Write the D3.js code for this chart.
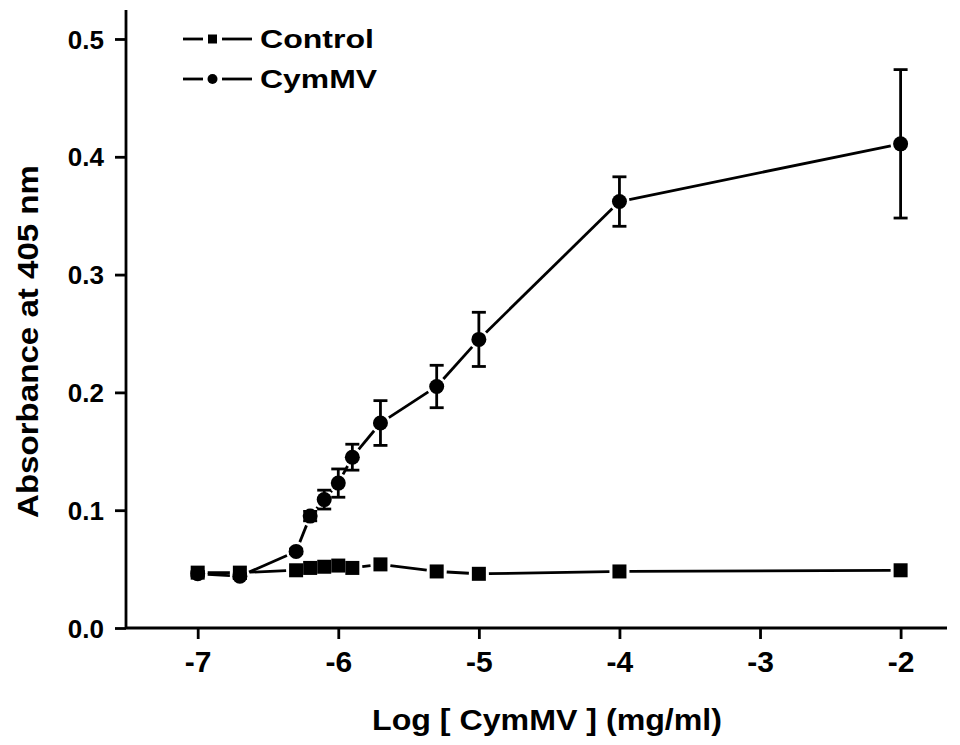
<!DOCTYPE html>
<html>
<head>
<meta charset="utf-8">
<script src="https://cdn.jsdelivr.net/npm/d3@7"></script>
<style>
  html, body { margin: 0; padding: 0; background: #fff; }
  svg { display: block; }
  text { font-family: "Liberation Sans", Arial, sans-serif; font-weight: bold; fill: #000; }
</style>
</head>
<body>
<svg id="chart" width="960" height="745"></svg>
<script>
// ---- data ----
const logConc = [-7, -6.7, -6.3, -6.2, -6.1, -6.0, -5.9, -5.7, -5.3, -5, -4, -2];
const cymmv = [0.046, 0.044, 0.065, 0.095, 0.109, 0.123, 0.145, 0.174, 0.205, 0.245, 0.362, 0.411];
const cymmvErr = [0.002, 0.002, 0.002, 0.004, 0.008, 0.012, 0.011, 0.019, 0.018, 0.023, 0.021, 0.063];
const control = [0.047, 0.047, 0.049, 0.051, 0.052, 0.053, 0.051, 0.054, 0.048, 0.046, 0.048, 0.049];
const xTicks = [-7, -6, -5, -4, -3, -2];
const yTicks = [0.0, 0.1, 0.2, 0.3, 0.4, 0.5];
const seriesNames = ["Control", "CymMV"];
const xTitle = "Log [ CymMV ] (mg/ml)";
const yTitle = "Absorbance at 405 nm";

const svg = d3.select("#chart");
const x = d3.scaleLinear().domain([-7.51, -1.67]).range([126, 947]);
const y = d3.scaleLinear().domain([0, 0.5246]).range([628, 10]);
const SW = 2.8;

// ---- axes ----
const xAxis = svg.append("g").attr("transform", `translate(0,${y(0)})`)
  .call(d3.axisBottom(x).tickValues(xTicks).tickSize(11).tickSizeOuter(0).tickPadding(12)
    .tickFormat(d => d3.format("d")(d).replace("\u2212", "-")));
const yAxis = svg.append("g").attr("transform", `translate(${x.range()[0]},0)`)
  .call(d3.axisLeft(y).tickValues(yTicks).tickSize(11).tickSizeOuter(0).tickPadding(11)
    .tickFormat(d3.format(".1f")));
[xAxis, yAxis].forEach(g => {
  g.select(".domain").attr("stroke", "#000").attr("stroke-width", SW);
  g.selectAll(".tick line").attr("stroke", "#000").attr("stroke-width", SW);
  g.selectAll("text").attr("fill", "#000").style("font-family", "'Liberation Sans', Arial, sans-serif").style("font-weight", "bold");
});
xAxis.selectAll("text").style("font-size", "30px").attr("dy", "0.71em");
yAxis.selectAll("text").style("font-size", "26px").attr("dy", "0.35em");
xAxis.select(".domain").attr("d", `M${x.range()[0]},0H${x.range()[1]}`);
yAxis.select(".domain").attr("d", `M0,${y.range()[1]}V${y.range()[0]}`);

// ---- titles ----
svg.append("text").attr("x", 372).attr("y", 730)
  .attr("textLength", 350).attr("lengthAdjust", "spacingAndGlyphs")
  .style("font-size", "29px").text(xTitle);
svg.append("text").attr("transform", "translate(38,518) rotate(-90)")
  .attr("textLength", 353).attr("lengthAdjust", "spacingAndGlyphs")
  .style("font-size", "29px").text(yTitle);

// ---- helper: gapped line segments ----
function gappedSegments(g, xs, ys, gap) {
  for (let i = 0; i < xs.length - 1; i++) {
    const x1 = x(xs[i]), y1 = y(ys[i]), x2 = x(xs[i + 1]), y2 = y(ys[i + 1]);
    const dx = x2 - x1, dy = y2 - y1, len = Math.hypot(dx, dy);
    if (len <= 2 * gap) continue;
    const ux = dx / len, uy = dy / len;
    g.append("line")
      .attr("x1", x1 + ux * gap).attr("y1", y1 + uy * gap)
      .attr("x2", x2 - ux * gap).attr("y2", y2 - uy * gap)
      .attr("stroke", "#000").attr("stroke-width", SW);
  }
}

const data = logConc.map((c, i) => ({ c, v: cymmv[i], e: cymmvErr[i], k: control[i] }));

// control series
const gc = svg.append("g");
gappedSegments(gc, logConc, control, 10);
const sq = 14;
gc.selectAll("rect").data(data).join("rect")
  .attr("x", d => x(d.c) - sq / 2).attr("y", d => y(d.k) - sq / 2)
  .attr("width", sq).attr("height", sq).attr("fill", "#000");

// CymMV series
const gv = svg.append("g");
gappedSegments(gv, logConc, cymmv, 10);
const cap = 7;
gv.selectAll("g.err").data(data).join("g").attr("class", "err").each(function (d) {
  const g = d3.select(this);
  const cx = x(d.c), yt = y(d.v + d.e), yb = y(d.v - d.e);
  g.append("line").attr("x1", cx).attr("x2", cx).attr("y1", yt).attr("y2", yb)
    .attr("stroke", "#000").attr("stroke-width", SW);
  [yt, yb].forEach(yy => g.append("line").attr("x1", cx - cap).attr("x2", cx + cap)
    .attr("y1", yy).attr("y2", yy).attr("stroke", "#000").attr("stroke-width", SW));
});
gv.selectAll("circle").data(data).join("circle")
  .attr("cx", d => x(d.c)).attr("cy", d => y(d.v)).attr("r", 7.5).attr("fill", "#000");

// ---- legend ----
const legend = svg.append("g");
seriesNames.forEach((name, i) => {
  const ly = 39 + i * 40;
  const row = legend.append("g");
  row.append("line").attr("x1", 183).attr("x2", 203).attr("y1", ly).attr("y2", ly)
    .attr("stroke", "#000").attr("stroke-width", SW);
  row.append("line").attr("x1", 222).attr("x2", 252).attr("y1", ly).attr("y2", ly)
    .attr("stroke", "#000").attr("stroke-width", SW);
  if (i === 0) {
    row.append("rect").attr("x", 208).attr("y", ly - 4.5).attr("width", 9).attr("height", 9).attr("fill", "#000");
  } else {
    row.append("circle").attr("cx", 212.5).attr("cy", ly).attr("r", 5).attr("fill", "#000");
  }
  row.append("text").attr("x", 260).attr("y", ly + 9)
    .attr("textLength", i === 0 ? 114 : 117).attr("lengthAdjust", "spacingAndGlyphs")
    .style("font-size", "25px").text(name);
});
</script>
</body>
</html>
